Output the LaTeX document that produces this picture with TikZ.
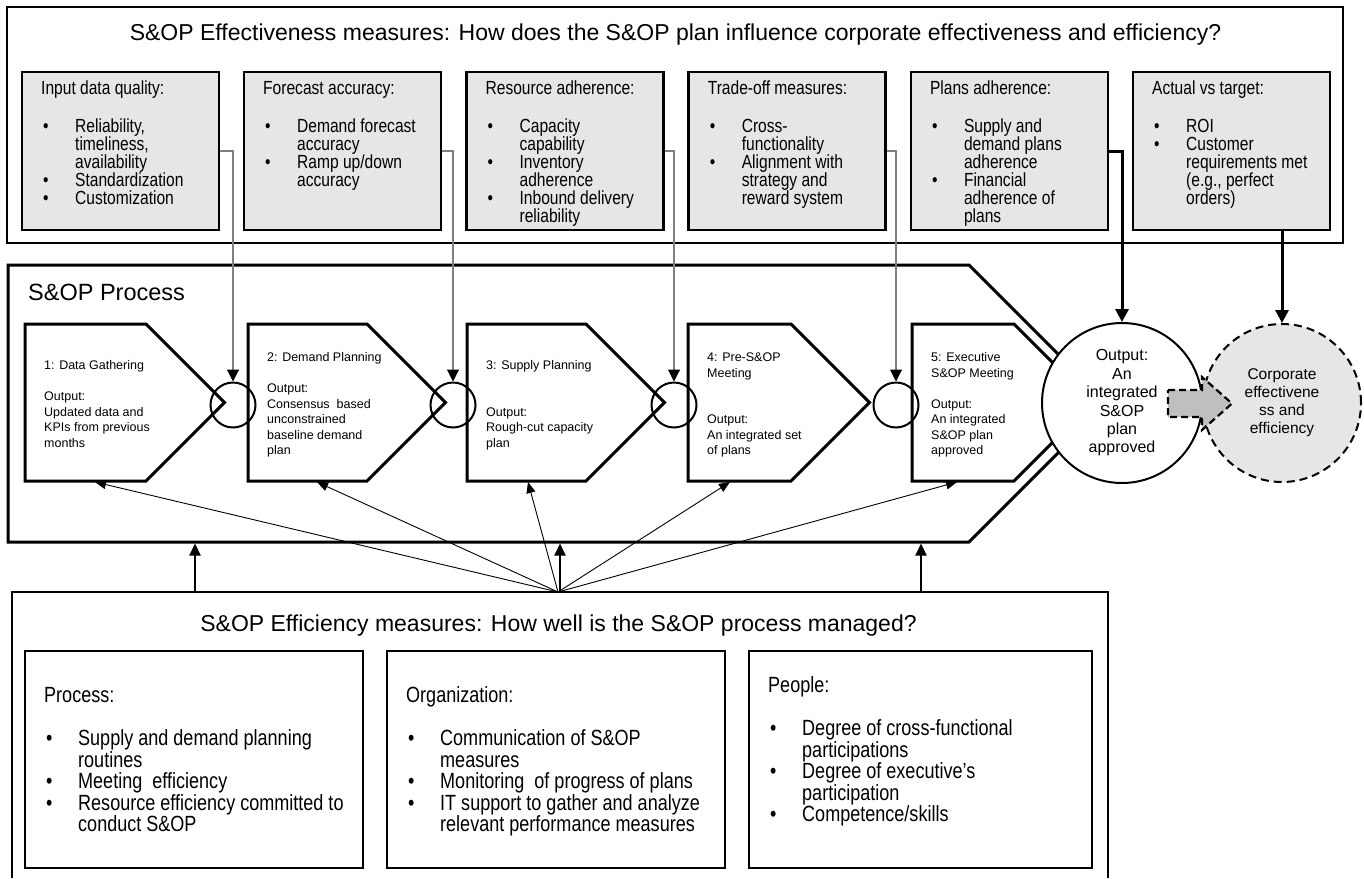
\documentclass[tikz,border=0pt]{standalone}
\usepackage{fontspec}
\setmainfont{Liberation Sans}
\newfontfamily\narrowfont[FakeStretch=0.82]{Liberation Sans}
\usetikzlibrary{arrows.meta}

\definecolor{boxgray}{HTML}{E6E6E6}
\definecolor{linkgray}{HTML}{7F7F7F}
\definecolor{blockgray}{HTML}{BFBFBF}

% font size / leading shortcut
\newcommand{\fs}[2]{\fontsize{#1}{#2}\selectfont}
% invisible strut that fixes the height of a first line
\newcommand{\lead}[1]{\rule{0pt}{#1}}
% bullet item and its continuation line (hanging indent)
\newcommand{\bl}[1]{\makebox[34pt][l]{\hspace*{2pt}\textbullet}#1}
\newcommand{\cl}[1]{\makebox[34pt]{}#1}

\begin{document}
\begin{tikzpicture}[x=1pt,y=-1pt,
  frameline/.style={draw,line width=2.2pt,inner sep=0pt},
  mbox/.style={draw,line width=2.4pt,fill=boxgray,minimum width=197pt,minimum height=158pt,inner sep=0pt},
  ebox/.style={draw,line width=2.2pt,minimum height=217pt,inner sep=0pt},
  stagepath/.style={draw,line width=3pt,line join=miter},
  jointcirc/.style={draw,circle,line width=2pt,minimum size=45pt,inner sep=0pt},
  toptxt/.style={anchor=north west,inner sep=0pt,align=left,font=\narrowfont\fs{19}{18}},
  efftxt/.style={anchor=north west,inner sep=0pt,align=left,font=\narrowfont\fs{22}{21.5}},
  stagetxt/.style={anchor=north west,inner sep=0pt,align=left,font=\fs{12.5}{15.5}},
  thinlink/.style={draw=linkgray,line width=1.1pt,-{Triangle[length=12pt,width=12pt,color=black]}},
  boldlink/.style={draw,line width=3pt,-{Triangle[length=13pt,width=13pt]}},
  fanlink/.style={draw,line width=0.9pt,-{Triangle[length=11pt,width=9pt]}},
  uplink/.style={draw,line width=2.2pt,-{Triangle[length=12pt,width=11pt]}},
]
\useasboundingbox (0,0) rectangle (1364,878);

% ---------- effectiveness measures ----------
\node[frameline,minimum width=1336pt,minimum height=236pt] (efffrm) at (675,125) {};
\node[anchor=base,inner sep=0pt,font=\fs{23}{27}] (efftitle) at (675.5,40)
  {S\&OP Effectiveness measures: How does the S\&OP plan influence corporate effectiveness and efficiency?};

\foreach \i/\cx in {1/120.5,2/342.7,3/564.9,4/787.1,5/1009.3,6/1231.5}
  \node[mbox] (b\i) at (\cx,151) {};

\node[toptxt] (b1t) at (41,75) {\lead{19pt}Input data quality:\\[20pt]
  \bl{Reliability,}\\\cl{timeliness,}\\\cl{availability}\\\bl{Standardization}\\\bl{Customization}};
\node[toptxt] (b2t) at (263,75) {\lead{19pt}Forecast accuracy:\\[20pt]
  \bl{Demand forecast}\\\cl{accuracy}\\\bl{Ramp up/down}\\\cl{accuracy}};
\node[toptxt] (b3t) at (485.4,75) {\lead{19pt}Resource adherence:\\[20pt]
  \bl{Capacity}\\\cl{capability}\\\bl{Inventory}\\\cl{adherence}\\\bl{Inbound delivery}\\\cl{reliability}};
\node[toptxt] (b4t) at (707.6,75) {\lead{19pt}Trade-off measures:\\[20pt]
  \bl{Cross-}\\\cl{functionality}\\\bl{Alignment with}\\\cl{strategy and}\\\cl{reward system}};
\node[toptxt] (b5t) at (929.8,75) {\lead{19pt}Plans adherence:\\[20pt]
  \bl{Supply and}\\\cl{demand plans}\\\cl{adherence}\\\bl{Financial}\\\cl{adherence of}\\\cl{plans}};
\node[toptxt] (b6t) at (1152,75) {\lead{19pt}Actual vs target:\\[20pt]
  \bl{ROI}\\\bl{Customer}\\\cl{requirements met}\\\cl{(e.g., perfect}\\\cl{orders)}};

% ---------- S&OP process ----------
\draw[stagepath] (8,265) -- (969,265) -- (1107.5,403.5) -- (969,542) -- (8,542) -- cycle;
\node[anchor=base west,inner sep=0pt,font=\fs{23.5}{28}] (proclabel) at (28,300) {S\&OP Process};

% five stage pentagons: left edge, end of flat top
\foreach \l/\f in {25/146,248/367,467/586,688/791,912/1014}
  \draw[stagepath] (\l,324) -- (\f,324) -- ({\f+78.5},402.5) -- (\f,481) -- (\l,481) -- cycle;

\node[stagetxt] (s1t) at (44,357) {\lead{12.5pt}1: Data Gathering\\[15.5pt]Output:\\Updated data and\\KPIs from previous\\months};
\node[stagetxt] (s2t) at (267,349) {\lead{12.5pt}2: Demand Planning\\[15.5pt]Output:\\Consensus\ \ based\\unconstrained\\baseline demand\\plan};
\node[stagetxt] (s3t) at (486,357) {\lead{12.5pt}3: Supply Planning\\[31pt]Output:\\Rough-cut capacity\\plan};
\node[stagetxt] (s4t) at (707,349) {\lead{12.5pt}4: Pre-S\&OP\\Meeting\\[31pt]Output:\\An integrated set\\of plans};
\node[stagetxt] (s5t) at (931,349) {\lead{12.5pt}5: Executive\\S\&OP Meeting\\[15.5pt]Output:\\An integrated\\S\&OP plan\\approved};

\node[jointcirc] (c1) at (233,405) {};
\node[jointcirc] (c2) at (453,405) {};
\node[jointcirc] (c3) at (674,405) {};
\node[jointcirc] (c4) at (896,405) {};

\node[draw,circle,line width=2pt,fill=white,minimum size=160pt,inner sep=0pt,align=center,font=\fs{16}{18.4}]
  (out) at (1122,403) {Output:\\An\\integrated\\S\&OP\\plan\\approved};
\node[draw,circle,line width=2pt,dash pattern=on 8pt off 5pt,fill=boxgray,minimum size=158pt,inner sep=0pt,align=center,font=\fs{15.5}{18}]
  (corp) at (1282,403) {Corporate\\effectivene\\ss and\\efficiency};

% block arrow from the plan to corporate results
\draw[line width=2.2pt,dash pattern=on 7pt off 4pt,fill=blockgray]
  (1168,390) -- (1202,390) -- (1202,377) -- (1232,403.5) -- (1202,430) -- (1202,417) -- (1168,417) -- cycle;

% measures feeding the process
\draw[thinlink] (b1.east) -| (c1.north);
\draw[thinlink] (b2.east) -| (c2.north);
\draw[thinlink] (b3.east) -| (c3.north);
\draw[thinlink] (b4.east) -| (c4.north);
\draw[boldlink] (b5.east) -| (out.north);
\draw[boldlink] (b6.south -| corp.north) -- (corp.north);

% ---------- efficiency measures ----------
\draw[line width=2.2pt] (12,878) -- (12,592) -- (1108,592) -- (1108,878);
\node[anchor=base,inner sep=0pt,font=\fs{23}{27}] (ecytitle) at (558.5,631)
  {S\&OP Efficiency measures: How well is the S\&OP process managed?};

\node[ebox,minimum width=338pt] (procbox) at (194,759.5) {};
\node[ebox,minimum width=338pt] (orgbox) at (556,759.5) {};
\node[ebox,minimum width=343pt] (pplbox) at (920.5,759.5) {};

\node[efftxt] (proct) at (44,680.7) {\lead{22pt}Process:\\[21.5pt]
  \bl{Supply and demand planning}\\\cl{routines}\\\bl{Meeting\ \ efficiency}\\\bl{Resource efficiency committed to}\\\cl{conduct S\&OP}};
\node[efftxt] (orgt) at (406,680.7) {\lead{22pt}Organization:\\[21.5pt]
  \bl{Communication of S\&OP}\\\cl{measures}\\\bl{Monitoring\ \ of progress of plans}\\\bl{IT support to gather and analyze}\\\cl{relevant performance measures}};
\node[efftxt] (pplt) at (768,670.7) {\lead{22pt}People:\\[21.5pt]
  \bl{Degree of cross-functional}\\\cl{participations}\\\bl{Degree of executive’s}\\\cl{participation}\\\bl{Competence/skills}};

% efficiency measures act on each stage
\coordinate (fanorg) at (558,592);
\coordinate (pb1) at (95,482);
\coordinate (pb2) at (317,482);
\coordinate (pb3) at (528,482);
\coordinate (pb4) at (730,482);
\coordinate (pb5) at (957,482);
\foreach \k in {1,...,5} \draw[fanlink] (fanorg) -- (pb\k);

\coordinate (ua1) at (195,592); \coordinate (ub1) at (195,543.5);
\coordinate (ua2) at (560,592); \coordinate (ub2) at (560,543.5);
\coordinate (ua3) at (921,592); \coordinate (ub3) at (921,543.5);
\foreach \k in {1,2,3} \draw[uplink] (ua\k) -- (ub\k);

\end{tikzpicture}
\end{document}
